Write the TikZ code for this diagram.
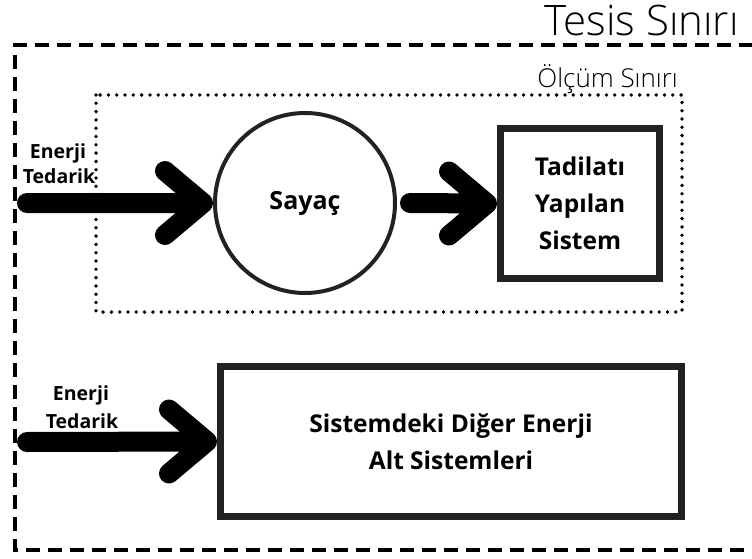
\documentclass[tikz,border=0pt]{standalone}
\usepackage{fontspec}
\setmainfont{Open Sans}
\newfontfamily\lightfont{Open Sans Light}
\definecolor{stroke}{HTML}{222222}
\begin{document}
\begin{tikzpicture}[x=1pt,y=-1pt,
  fatarrow/.style={line width=20pt, line cap=round, line join=round, draw=black,
    to path={-- ([xshift=-10pt]\tikztotarget)
      ([xshift=-48pt,yshift=32pt]\tikztotarget) -- ([xshift=-10pt]\tikztotarget)
      -- ([xshift=-48pt,yshift=-32pt]\tikztotarget)}},
  lab/.style={anchor=base, inner sep=0pt, font=\bfseries\fontsize{19.5}{22}\selectfont},
  unit/.style={draw=stroke, line width=7pt, inner sep=0pt, align=center,
    font=\bfseries\fontsize{24.5}{37}\selectfont},
  facility/.style={line width=4.2pt, dash pattern=on 14pt off 8pt},
  metering/.style={line width=3.8pt, line cap=round, dash pattern=on 0pt off 8.3pt}
]
\useasboundingbox (0,0) rectangle (752,559);

% facility boundary (runs past the right edge)
\draw[facility] (775,45) -- (15,45) -- (15,550) -- (775,550);
\node[anchor=base east, inner sep=0pt, font=\lightfont\fontsize{42}{45}\selectfont]
  (tesis) at (739,36) {Tesis Sınırı};

% metering boundary
\draw[metering] (96,95) rectangle (682,312);
\node[anchor=base east, inner sep=0pt, font=\lightfont\fontsize{26}{28}\selectfont]
  (olcum) at (678,88) {Ölçüm Sınırı};

% meter and retrofitted system
\node[circle, draw=stroke, line width=4pt, minimum size=180pt, inner sep=0pt,
  font=\bfseries\fontsize{25}{30}\selectfont] (sayac) at (305,203) {Sayaç};
\node[unit, minimum width=159pt, minimum height=150pt] (tadil) at (580,203.5)
  {Tadilatı\\Yapılan\\Sistem};

% other subsystems
\node[unit, minimum width=461pt, minimum height=150pt] (diger) at (451,441.5)
  {Sistemdeki Diğer Enerji\\Alt Sistemleri};

% supply labels
\node[lab] (en1) at (58,158) {Enerji};
\node[lab] (te1) at (59,183) {Tedarik};
\node[lab] (en2) at (81,400) {Enerji};
\node[lab] (te2) at (82,428) {Tedarik};

% energy flows
\coordinate (src1) at (27,203);
\coordinate (src2) at (27,442);
\draw[fatarrow] (src1) to (sayac.west);
\draw[fatarrow] ([xshift=13pt]sayac.east) to (tadil.west);
\draw[fatarrow] (src2) to (diger.west);
\end{tikzpicture}
\end{document}
